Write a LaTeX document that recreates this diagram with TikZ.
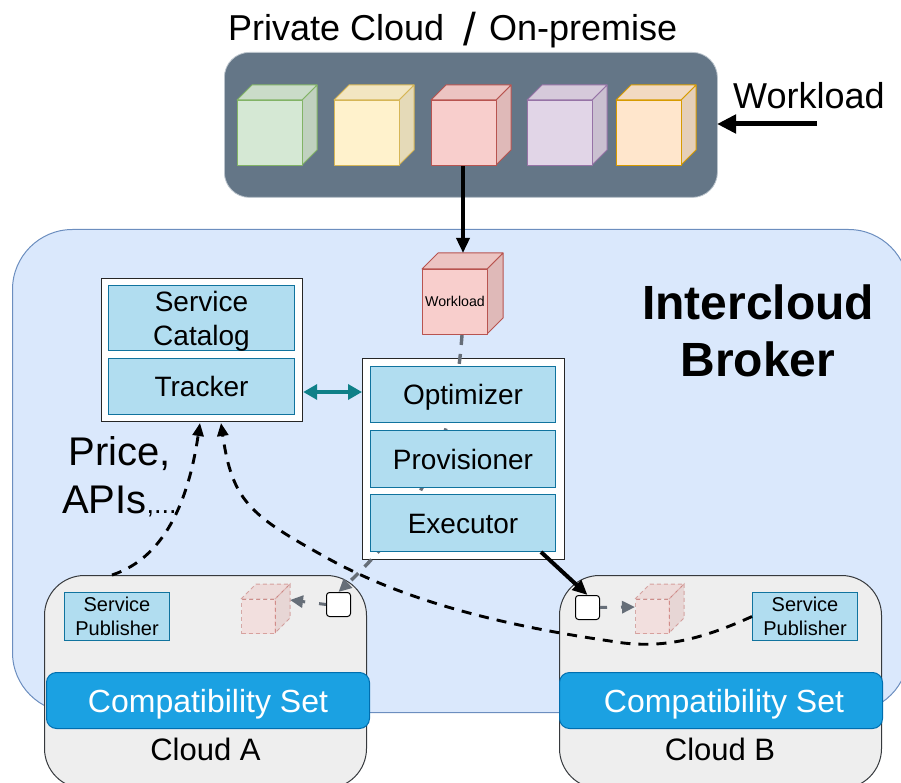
\documentclass[tikz,border=0pt]{standalone}
\usepackage{fontspec}
\setmainfont{Liberation Sans}
\usetikzlibrary{arrows.meta}
\definecolor{brokerfill}{HTML}{DAE8FC}
\definecolor{brokerline}{HTML}{6C8EBF}
\definecolor{slate}{HTML}{647687}
\definecolor{slateline}{HTML}{BBC4CC}
\definecolor{bluefill}{HTML}{B1DDF0}
\definecolor{blueline}{HTML}{10739E}
\definecolor{setfill}{HTML}{1BA1E2}
\definecolor{setline}{HTML}{006EAF}
\definecolor{cloudfill}{HTML}{EEEEEE}
\definecolor{cloudline}{HTML}{36393D}
\definecolor{teal}{HTML}{0E8088}
\definecolor{edgegrey}{HTML}{666E78}
\definecolor{gf}{HTML}{D5E8D4}\definecolor{gl}{HTML}{82B366}
\definecolor{yf}{HTML}{FFF2CC}\definecolor{yl}{HTML}{D6B656}
\definecolor{rf}{HTML}{F8CECC}\definecolor{rl}{HTML}{B85450}
\definecolor{pf}{HTML}{E1D5E7}\definecolor{pl}{HTML}{9673A6}
\definecolor{of}{HTML}{FFE6CC}\definecolor{ol}{HTML}{D79B00}
\newcommand{\fsz}[1]{\fontsize{#1}{#1}\selectfont}
% name, left, top of front face, width, depth, fill, line, node options, text
\newcommand{\boxcube}[9]{%
  \path[#8,fill=#6!90!black,draw=#7] (#2+#4,#3) -- ++(#5,-#5) -- ++(0,#4) -- ++(-#5,#5) -- cycle;
  \path[#8,fill=#6!95!black,draw=#7] (#2,#3) -- ++(#5,-#5) -- ++(#4,0) -- ++(-#5,#5) -- cycle;
  \node[#8,fill=#6,draw=#7,minimum width=#4 pt,minimum height=#4 pt,inner sep=0pt,anchor=north west] (#1) at (#2,#3) {#9};
}
\tikzset{
  every node/.style={font=\fsz{28},text=black,align=center},
  cubeface/.style={line width=1pt,line join=round},
  ghostface/.style={line width=1pt,dashed,dash pattern=on 4pt off 3pt,opacity=.45},
  outerbox/.style={draw=black!85,line width=1.2pt,fill=white,inner sep=0pt,anchor=north west},
  innerbox/.style={draw=blueline,line width=1pt,fill=bluefill,inner sep=0pt,anchor=north west},
  onelinetext/.style={text height=20pt,text depth=0pt},
  cloudbox/.style={draw=cloudline,line width=1pt,fill=cloudfill,rounded corners=40pt,minimum width=322pt,minimum height=213pt,inner sep=0pt,anchor=north west},
  setbox/.style={draw=setline,line width=1pt,fill=setfill,rounded corners=10pt,minimum width=323pt,minimum height=56pt,inner sep=0pt,anchor=north west,text=white,font=\fsz{32},text height=24pt,text depth=0pt},
  pubbox/.style={innerbox,minimum width=105pt,minimum height=48pt,font=\fsz{20},text depth=0pt},
  smallbox/.style={draw=black,line width=1pt,fill=white,rounded corners=3pt,minimum size=24pt,inner sep=0pt,anchor=north west},
  solidedge/.style={draw=black,line width=3.5pt,-{Triangle[length=15pt,width=13pt]}},
  dashedge/.style={draw=black,line width=2.9pt,dash pattern=on 10pt off 8pt,-{Triangle[length=13pt,width=11pt]}},
  greyedge/.style={draw=edgegrey,line width=3.4pt,dash pattern=on 10pt off 9pt,-{Triangle[length=13pt,width=12pt]}},
}
\begin{document}
\begin{tikzpicture}[x=1pt,y=-1pt]
\useasboundingbox (0,0) rectangle (901,783);
\clip (0,0) rectangle (901,783);
% broker
\node[draw=brokerline,line width=1pt,fill=brokerfill,rounded corners=60pt,minimum width=896pt,minimum height=483pt,inner sep=0pt,anchor=north west] (broker) at (12,229) {};
\node[font=\fsz{48}\bfseries] (brokerlabel) at (758,331) {Intercloud\\[9pt]Broker};
% private cloud
\node[draw=slateline,line width=.8pt,fill=slate,rounded corners=25pt,minimum width=493pt,minimum height=145pt,inner sep=0pt,anchor=north west] (private) at (224,52) {};
\node[font=\fsz{36},anchor=base west,inner sep=0pt] (t1) at (228,41) {Private Cloud};
\node[font=\fsz{46},anchor=center,inner sep=0pt] (t2) at (470,29) {/};
\node[font=\fsz{36},anchor=base west,inner sep=0pt] (t3) at (489,41) {On-premise};
\node[font=\fsz{36},anchor=base west,inner sep=0pt] (wl) at (733,109) {Workload};
\boxcube{c1}{237}{100}{65}{15}{gf}{gl}{cubeface}{}
\boxcube{c2}{334}{100}{65}{15}{yf}{yl}{cubeface}{}
\boxcube{c3}{431}{100}{65}{15}{rf}{rl}{cubeface}{}
\boxcube{c4}{527}{100}{65}{15}{pf}{pl}{cubeface}{}
\boxcube{c5}{616}{100}{65}{15}{of}{ol}{cubeface}{}
\coordinate (wltail) at (817,124);
\coordinate (privateedge) at (717,124);
\draw[draw=black,line width=5pt,-{Triangle[length=19pt,width=18pt]}] (wltail) -- (privateedge);
% workload cube
\boxcube{wcube}{422}{269}{65}{16}{rf}{rl}{cubeface}{\raisebox{1pt}{\fsz{14.2}Workload}}
\coordinate (wtop) at (463,253);
\draw[solidedge] (c3.south) ++(-1,0) -- (wtop);
% clouds
\node[cloudbox] (cloudA) at (44,575) {};
\node[cloudbox] (cloudB) at (559,575) {};
% outer boxes
\node[outerbox,minimum width=201pt,minimum height=143pt] (left) at (101,278) {};
\node[outerbox,minimum width=202pt,minimum height=201pt] (right) at (362,358) {};
% small boxes and ghost cubes
\boxcube{ghostA}{241}{599}{34}{15}{rf}{rl}{ghostface}{}
\boxcube{ghostB}{635}{599}{34}{15}{rf}{rl}{ghostface}{}
\node[smallbox] (smallA) at (326,592) {};
\node[smallbox] (smallB) at (575,595) {};
% grey edge, under the inner boxes
\draw[greyedge] (wcube.south) ++(7,0) .. controls (456,420) and (432,505) .. (smallA.north);
\draw[greyedge,line width=3pt,dash pattern=on 7pt off 14pt] (smallA.west) -- (290,600);
\draw[greyedge,line width=3pt,dash pattern=on 7pt off 14pt] (smallB.east) -- (635,607);
% inner boxes
\node[innerbox,minimum width=186pt,minimum height=65pt,text depth=0pt] (catalog) at (108,285) {Service\\[6pt]Catalog};
\node[innerbox,onelinetext,minimum width=186pt,minimum height=56pt] (tracker) at (108,358) {Tracker};
\node[innerbox,onelinetext,minimum width=185pt,minimum height=56pt] (opt) at (370,366) {Optimizer};
\node[innerbox,onelinetext,minimum width=185pt,minimum height=57pt] (prov) at (370,430) {Provisioner};
\node[innerbox,onelinetext,minimum width=185pt,minimum height=57pt] (exec) at (370,494) {Executor};
% compat sets
\node[setbox] (setA) at (46,672) {Compatibility Set};
\node[setbox] (setB) at (559,672) {\hspace*{6pt}Compatibility Set};
\node[font=\fsz{31},inner sep=0pt] (la) at (205.5,749) {Cloud A};
\node[font=\fsz{31},inner sep=0pt] (lb) at (720,749) {Cloud B};
% publishers
\node[pubbox] (pubA) at (64,592) {Service\\[4pt]Publisher};
\node[pubbox] (pubB) at (752,592) {Service\\[4pt]Publisher};
% connectors
\coordinate (tealy) at (0,392);
\draw[draw=teal,line width=3.4pt,{Triangle[length=14pt,width=15pt]}-{Triangle[length=14pt,width=15pt]}] (left.east |- tealy) -- (right.west |- tealy);
\coordinate (exectail) at (541,552);
\draw[solidedge,line width=4pt] (exectail) -- (smallB.north);
\coordinate (catA) at (200,423);
\coordinate (catB) at (221,423);
\coordinate (cloudAtop) at (112,575);
\draw[dashedge] (cloudAtop) .. controls (170,556) and (190,490) .. (catA);
\draw[dashedge] (pubB.west) .. controls (700,640) and (660,650) .. (610,641) .. controls (500,625) and (400,600) .. (320,554) .. controls (250,515) and (232,500) .. (catB);
% label
\node[font=\fsz{40},inner sep=0pt] (price) at (120,454) {Price,};
\node[font=\fsz{40},inner sep=0pt,anchor=west] (apis) at (62,501) {APIs\fsz{27},...};
\end{tikzpicture}
\end{document}
